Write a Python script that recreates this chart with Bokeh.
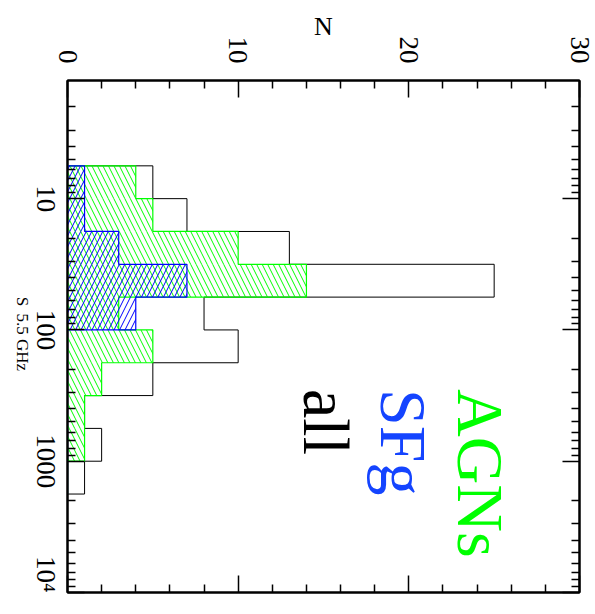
import math
from bokeh.plotting import figure
from bokeh.models import Range1d, LinearAxis, LogAxis, FixedTicker, Label
from bokeh.embed import file_html
from bokeh.resources import INLINE

# ---------------- data ----------------
log_edges = [0.75, 1.0, 1.25, 1.5, 1.75, 2.0, 2.25, 2.5, 2.75, 3.0, 3.25]   # log10 S_5.5GHz bin edges
n_all = [5, 7, 13, 25, 8, 10, 5, 1, 2, 1]
n_agn = [4, 5, 10, 14, 3, 5, 2, 1, 1, 0]
n_sfg = [1, 1, 3, 7, 4, 0, 0, 0, 0, 0]
n_major = [0, 10, 20, 30]
n_minor = [2, 4, 6, 8, 12, 14, 16, 18, 22, 24, 26, 28]
s_major = [10, 100, 1000, 10000]
s_labels = ["10", "100", "1000", "10\u2074"]
legend_names = ["AGNs", "SFg", "all"]

# ---------------- style / layout ----------------
SERIF = "Liberation Serif"
GREEN = "#00ff00"
BLUE = "#0000ff"
BLUE_TXT = "#1444ff"
edges = [10 ** e for e in log_edges]
s_minor = [k * 10 ** d for d in range(0, 4) for k in range(2, 10)]
LOG_TOP = 0.1
FRAME_PX = 512
DEC_PX = FRAME_PX / (4 - LOG_TOP)       # pixels per decade on the S axis
TICK_FONT_PX = 27
S_TITLE_POS = 66      # along-axis anchor (label end) of the "S" title
SUB_TITLE_POS = 206   # along-axis anchor (label end) of the "5.5 GHz" subscript
AXIS_END = 9999       # last anchor that still lies inside the axis range


def label_len_px(text, font_px):
    w = {"\u2074": 0.33}
    return sum(w.get(c, 0.5) for c in text) * font_px


p = figure(frame_width=FRAME_PX, frame_height=FRAME_PX,
           x_range=Range1d(0, 30), y_range=Range1d(10 ** 4, 10 ** LOG_TOP),
           y_axis_type="log", x_axis_location="above",
           output_backend="svg", toolbar_location=None,
           min_border_left=64, min_border_top=80,
           min_border_right=19, min_border_bottom=22)
p.grid.visible = False
p.outline_line_color = "black"
p.outline_line_width = 2
p.background_fill_color = "white"
p.border_fill_color = "white"


def style_axis(ax, labels=True):
    ax.axis_line_width = 2
    ax.axis_line_color = "black"
    ax.major_tick_in = 17
    ax.major_tick_out = 0
    ax.minor_tick_in = 8
    ax.minor_tick_out = 0
    ax.major_tick_line_width = 1.5
    ax.minor_tick_line_width = 1.5
    ax.major_tick_line_color = "black"
    ax.minor_tick_line_color = "black"
    ax.major_label_orientation = -math.pi / 2
    ax.major_label_text_font = SERIF
    ax.major_label_text_color = "black"
    ax.axis_label_text_font = SERIF
    ax.axis_label_text_font_style = "normal"
    ax.axis_label_text_color = "black"
    if labels:
        ax.major_label_text_font_size = "%dpx" % TICK_FONT_PX
    else:
        ax.major_label_text_font_size = "1px"
        ax.major_label_standoff = 0
        ax.major_label_text_alpha = 0


# top (N) axis
top = p.xaxis[0]
top.ticker = FixedTicker(ticks=n_major, minor_ticks=n_minor)
style_axis(top)
top.major_label_standoff = 17
top.axis_label = "N"
top.axis_label_text_font_size = "26px"
top.axis_label_standoff = -7

# left (S) axis: ticks only
left = p.yaxis[0]
left.ticker = FixedTicker(ticks=s_major, minor_ticks=s_minor)
style_axis(left, labels=False)
left.major_label_overrides = {t: "" for t in s_major}


def text_axis(texts, positions, size, standoff):
    ax = LogAxis(ticker=FixedTicker(ticks=positions, minor_ticks=[]),
                 axis_line_color=None, major_tick_line_color=None,
                 minor_tick_line_color=None, major_tick_in=0, major_tick_out=0,
                 minor_tick_in=0, minor_tick_out=0,
                 major_label_overrides={q: t for q, t in zip(positions, texts)},
                 major_label_orientation=-math.pi / 2,
                 major_label_text_font=SERIF, major_label_text_color="black",
                 major_label_text_font_size=size,
                 major_label_standoff=standoff)
    p.add_layout(ax, "left")


# tick labels of the S axis, centred on their ticks (labels are anchored at their end)
label_pos = [min(AXIS_END, 10 ** (math.log10(t) + label_len_px(l, TICK_FONT_PX) / 2 / DEC_PX))
             for t, l in zip(s_major, s_labels)]
text_axis(s_labels, label_pos, "%dpx" % TICK_FONT_PX, 22)
# axis title "S" with its "5.5 GHz" subscript, in one outer column
text_axis(["S", "5.5 GHz"], [S_TITLE_POS, SUB_TITLE_POS], "17px", -10)

bottom = LinearAxis(ticker=FixedTicker(ticks=n_major, minor_ticks=n_minor))
style_axis(bottom, labels=False)
bottom.major_label_overrides = {t: "" for t in n_major}
p.add_layout(bottom, "below")
right = LogAxis(ticker=FixedTicker(ticks=s_major, minor_ticks=s_minor))
style_axis(right, labels=False)
right.major_label_overrides = {t: "" for t in s_major}
p.add_layout(right, "right")


def outline(counts):
    xs, ys = [0], [edges[0]]
    for i, c in enumerate(counts):
        xs += [c, c]
        ys += [edges[i], edges[i + 1]]
    xs.append(0)
    ys.append(edges[-1])
    return xs, ys


lo, hi = edges[:-1], edges[1:]

# all
xs, ys = outline(n_all)
p.line(xs, ys, line_color="black", line_width=1)

# AGN
p.quad(left=0, right=n_agn, bottom=lo, top=hi, fill_color=None, line_color=None,
       hatch_pattern="left_diagonal_line", hatch_color=GREEN, hatch_scale=11,
       hatch_weight=1)
xs, ys = outline(n_agn)
p.line(xs, ys, line_color=GREEN, line_width=1.2)

# SFg
p.quad(left=0, right=n_sfg, bottom=lo, top=hi, fill_color=None, line_color=None,
       hatch_pattern="right_diagonal_line", hatch_color=BLUE, hatch_scale=11,
       hatch_weight=1)
xs, ys = outline(n_sfg)
p.line(xs, ys, line_color=BLUE, line_width=1.2)

# legend-like texts
for name, col, xn in zip(legend_names, [GREEN, BLUE_TXT, "black"], [24.2, 19.7, 15.2]):
    p.add_layout(Label(x=xn, y=10 ** 2.45, text=name, angle=-math.pi / 2,
                       text_font=SERIF, text_font_size="66px", text_color=col,
                       text_align="left", text_baseline="alphabetic"))

open("out.html", "w").write(file_html(p, INLINE))
